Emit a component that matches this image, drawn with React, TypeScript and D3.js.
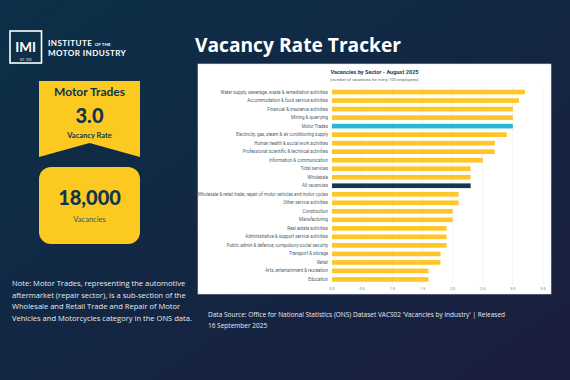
import React from "react";
import * as d3 from "d3";

const sectors = [
  "Water supply, sewerage, waste & remediation activities",
  "Accommodation & food service activities",
  "Financial & insurance activities",
  "Mining & quarrying",
  "Motor Trades",
  "Electricity, gas, steam & air conditioning supply",
  "Human health & social work activities",
  "Professional scientific & technical activities",
  "Information & communication",
  "Total services",
  "Wholesale",
  "All vacancies",
  "Wholesale & retail trade; repair of motor vehicles and motor cycles",
  "Other service activities",
  "Construction",
  "Manufacturing",
  "Real estate activities",
  "Administrative & support service activities",
  "Public admin & defence; compulsory social security",
  "Transport & storage",
  "Retail",
  "Arts, entertainment & recreation",
  "Education",
];
const rates = [3.2, 3.1, 3.0, 3.0, 3.0, 2.9, 2.7, 2.7, 2.5, 2.3, 2.3, 2.3, 2.1, 2.1, 2.0, 2.0, 1.9, 1.9, 1.9, 1.8, 1.8, 1.6, 1.6];
const xTicks = [0, 0.5, 1, 1.5, 2, 2.5, 3, 3.5];
const noteLines = [
  "Note: Motor Trades, representing the automotive",
  "aftermarket (repair sector), is a sub-section of the",
  "Wholesale and Retail Trade and Repair of Motor",
  "Vehicles and Motorcycles category in the ONS data.",
];
const sourceLines = [
  "Data Source: Office for National Statistics (ONS) Dataset VACS02 'Vacancies by industry' | Released",
  "16 September 2025",
];

const W = 570, H = 380;
const FONT = "'Open Sans', Lato, sans-serif";
const LATO = "Lato, 'Open Sans', sans-serif";
const NAVY = "#0d3552";
const YELLOW = "#fcc921";

export default function App() {
  const x = d3.scaleLinear().domain([0, 3.5]).range([332, 543]);
  const y = d3.scaleBand<string>().domain(sectors).range([88, 283.5]).paddingInner(0.45).paddingOuter(0.2);
  const barColor = (s: string) => (s === "Motor Trades" ? "#2db6d3" : s === "All vacancies" ? "#0d3a4f" : "#ffc629");
  return (
    <svg width={W} height={H} style={{ position: "absolute", left: 0, top: 0, display: "block" }} fontFamily={FONT}>
      <defs>
        <linearGradient id="bg" x1="0" y1="0" x2="1" y2="1">
          <stop offset="0" stopColor="#0b3048" />
          <stop offset="1" stopColor="#1b1d3e" />
        </linearGradient>
      </defs>
      <rect width={W} height={H} fill="url(#bg)" />
      {/* logo */}
      <rect x={10} y={31} width={31.5} height={32} fill="none" stroke="#fff" strokeWidth={1.6} />
      <text x={25.7} y={52} textAnchor="middle" fill="#fff" fontSize={13.5} fontWeight={700} fontFamily={LATO}>IMI</text>
      <text x={25.7} y={60.8} textAnchor="middle" fill="#fff" fontSize={2.6}>EST. 1920</text>
      <text x={48} y={45.6} fill="#fff" fontSize={8.1} fontWeight={700} fontFamily={LATO} letterSpacing={0.4}>INSTITUTE <tspan fontSize={4.4} letterSpacing={0.1}>OF THE</tspan></text>
      <text x={48} y={55.6} fill="#fff" fontSize={8.1} fontWeight={700} fontFamily={LATO} letterSpacing={0.4}>MOTOR INDUSTRY</text>
      {/* title */}
      <text x={195} y={52} fill="#fff" fontSize={19.2} fontWeight={700}>Vacancy Rate Tracker</text>
      {/* banner */}
      <path d="M39,81 L140,81 L140,157 L89.5,143 L39,157 Z" fill={YELLOW} />
      <text x={89.5} y={96} textAnchor="middle" fill={NAVY} fontSize={12} fontWeight={700} fontFamily={LATO}>Motor Trades</text>
      <text x={89.5} y={123} textAnchor="middle" fill={NAVY} fontSize={20} fontWeight={900} fontFamily={LATO}>3.0</text>
      <text x={89.5} y={138} textAnchor="middle" fill={NAVY} fontSize={7.5} fontWeight={700} fontFamily={LATO}>Vacancy Rate</text>
      <rect x={39} y={167} width={101} height={77} rx={12} fill={YELLOW} />
      <text x={89.5} y={205} textAnchor="middle" fill={NAVY} fontSize={20} fontWeight={900} fontFamily={LATO}>18,000</text>
      <text x={89.5} y={222} textAnchor="middle" fill="#3b5465" fontSize={7.5} fontFamily={LATO}>Vacancies</text>
      {/* note */}
      {noteLines.map((l, i) => (
        <text key={i} x={12} y={286 + i * 11.5} fill="#e6ebef" fontSize={7.55}>{l}</text>
      ))}
      {sourceLines.map((l, i) => (
        <text key={i} x={208} y={317 + i * 10.5} fill="#e6ebef" fontSize={6.5}>{l}</text>
      ))}
      {/* chart panel */}
      <rect x={198} y={64} width={353} height={230} fill="#fff" stroke="#dfe4e8" strokeWidth={0.6} />
      <text x={374.5} y={74} textAnchor="middle" fill="#1d3f52" fontSize={5.6} fontWeight={700} fontFamily="Roboto, sans-serif">Vacancies by Sector  - August 2025</text>
      <text x={374.5} y={80.5} textAnchor="middle" fill="#5a6b78" fontSize={4.2} fontFamily="Roboto, sans-serif">(number of vacancies for every 100 employees)</text>
      {xTicks.map((t) => (
        <g key={t}>
          {t > 0 && <line x1={x(t)} x2={x(t)} y1={87} y2={284} stroke="#ebeef0" strokeWidth={0.7} />}
          <text x={x(t)} y={290} textAnchor="middle" fill="#6a7a88" fontSize={3.8} fontFamily="Roboto, sans-serif">{d3.format(".1f")(t)}</text>
        </g>
      ))}
      {sectors.map((s, i) => (
        <g key={s}>
          <rect x={x(0)} y={y(s)!} width={x(rates[i]) - x(0)} height={y.bandwidth()} fill={barColor(s)} />
          <text x={328} y={y(s)! + y.bandwidth() / 2} dy="0.35em" textAnchor="end" fill="#4c5d6b" fontSize={4.45} fontFamily="Roboto, sans-serif">{s}</text>
        </g>
      ))}
    </svg>
  );
}
